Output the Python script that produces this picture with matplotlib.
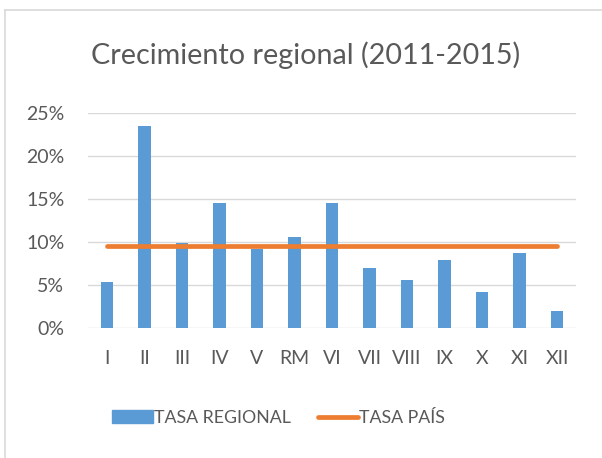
import numpy as np
import matplotlib.pyplot as plt
from matplotlib.lines import Line2D
from matplotlib.patches import Patch
from matplotlib.ticker import PercentFormatter

# growth rate per region, 2011-2015
regiones = ["I", "II", "III", "IV", "V", "RM", "VI", "VII", "VIII", "IX", "X", "XI", "XII"]
tasa_regional = [0.053, 0.234, 0.098, 0.145, 0.092, 0.105, 0.145, 0.070, 0.055, 0.079, 0.041, 0.087, 0.020]
tasa_pais = 0.095

azul = "#5B9BD5"
naranja = "#ED7D31"
gris = "#595959"

plt.rcParams["font.family"] = ["Lato", "DejaVu Sans"]

fig = plt.figure(figsize=(6.02, 4.58), dpi=100)
ax = fig.add_axes([0.1462, 0.2845, 0.8106, 0.4694])

x = np.arange(len(regiones))
ax.bar(x, tasa_regional, width=0.33, color=azul, zorder=2)
ax.plot(x, [tasa_pais] * len(x), color=naranja, lw=3.4, solid_capstyle="round", zorder=3)

ax.set_xlim(-0.5, len(regiones) - 0.5)
ax.set_ylim(0, 0.25)
ax.set_yticks(np.arange(0, 0.251, 0.05))
ax.yaxis.set_major_formatter(PercentFormatter(1.0, decimals=0))
ax.set_xticks(x)
ax.set_xticklabels(regiones)
ax.grid(axis="y", color="#D9D9D9", lw=1.0, zorder=0)
ax.tick_params(axis="both", length=0, labelsize=14, labelcolor=gris)
ax.tick_params(axis="x", pad=16)
ax.tick_params(axis="y", pad=17)
for s in ax.spines.values():
    s.set_visible(False)

fig.text(0.508, 0.88, "Crecimiento regional (2011-2015)", ha="center", va="center",
         fontsize=20.7, color=gris)

handles = [Patch(color=azul), Line2D([0], [0], color=naranja, lw=3.4, solid_capstyle="round")]
fig.legend(handles, ["TASA REGIONAL", "TASA PAÍS"], loc="center", bbox_to_anchor=(0.463, 0.088),
           ncol=2, frameon=False, fontsize=12.8, labelcolor=gris, handlelength=2.3,
           handleheight=0.68, handletextpad=0.05, columnspacing=1.5)

# chart frame edges
fig.add_artist(Line2D([5 / 602, 1], [1 - 10 / 458] * 2, color="#D9D9D9", lw=1.2))
fig.add_artist(Line2D([5 / 602] * 2, [0, 1 - 10 / 458], color="#D9D9D9", lw=1.2))

fig.savefig("out.png", dpi=100)
